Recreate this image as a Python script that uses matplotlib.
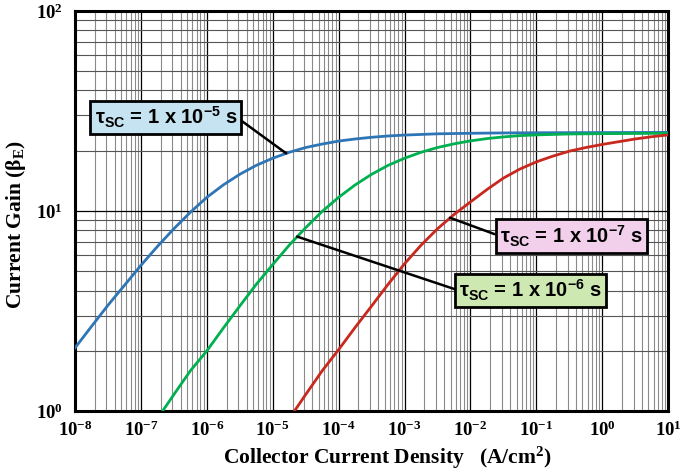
import matplotlib
matplotlib.use('Agg')
import matplotlib.pyplot as plt
from matplotlib.ticker import LogLocator, LogFormatterMathtext, NullFormatter

plt.rcParams['font.family'] = 'Liberation Serif'
plt.rcParams['font.weight'] = 'bold'
plt.rcParams['mathtext.default'] = 'regular'
plt.rcParams['axes.unicode_minus'] = False

# Collector current density (A/cm^2) and current gain
j_blue = [1e-8, 1.78e-8, 3.16e-8, 5.62e-8, 1e-7, 1.78e-7, 3.16e-7, 5.62e-7,
          1e-6, 1.78e-6, 3.16e-6, 5.62e-6, 1e-5, 1.78e-5, 3.16e-5, 5.62e-5,
          1e-4, 1.78e-4, 3.16e-4, 5.62e-4, 1e-3, 3.16e-3, 1e-2, 3.16e-2, 1e-1, 1e0, 1e1]
b_blue = [2.07, 2.65, 3.38, 4.25, 5.35, 6.65, 8.15, 9.85,
          11.7, 13.5, 15.25, 16.9, 18.35, 19.65, 20.75, 21.6,
          22.35, 22.9, 23.35, 23.7, 23.95, 24.3, 24.45, 24.55, 24.6, 24.65, 24.7]

j_green = [2.13e-7, 3.16e-7, 5.62e-7, 1e-6, 1.78e-6, 3.16e-6, 5.62e-6,
           1e-5, 1.78e-5, 3.16e-5, 5.62e-5, 1e-4, 1.78e-4, 3.16e-4, 5.62e-4,
           1e-3, 1.78e-3, 3.16e-3, 5.62e-3, 1e-2, 1.78e-2, 3.16e-2, 5.62e-2,
           1e-1, 3.16e-1, 1e0, 3.16e0, 1e1]
b_green = [1.0, 1.21, 1.59, 2.0, 2.6, 3.35, 4.3,
           5.4, 6.75, 8.25, 9.95, 11.7, 13.5, 15.25, 16.9,
           18.35, 19.65, 20.75, 21.65, 22.4, 23.0, 23.45, 23.8,
           24.0, 24.25, 24.35, 24.4, 24.45]

j_red = [2.13e-5, 3.16e-5, 5.62e-5, 1e-4, 1.78e-4, 3.16e-4, 5.62e-4,
         1e-3, 1.78e-3, 3.16e-3, 5.62e-3, 1e-2, 1.78e-2, 3.16e-2, 5.62e-2,
         1e-1, 1.78e-1, 3.16e-1, 5.62e-1, 1e0, 1.78e0, 3.16e0, 5.62e0, 1e1]
b_red = [1.0, 1.21, 1.59, 2.03, 2.62, 3.35, 4.3,
         5.45, 6.75, 8.15, 9.6, 11.1, 12.8, 14.6, 16.2,
         17.6, 18.8, 19.9, 20.75, 21.5, 22.2, 22.9, 23.5, 24.0]

fig = plt.figure(figsize=(6.85, 4.72), dpi=100)
ax = fig.add_axes([0.1095, 0.129, 0.866, 0.848])

ax.plot(j_blue, b_blue, color='#2E75B6', lw=2.0, zorder=3)
ax.plot(j_green, b_green, color='#00B050', lw=2.0, zorder=3)
ax.plot(j_red, b_red, color='#C8281E', lw=2.0, zorder=3)

ax.set_xscale('log')
ax.set_yscale('log')
ax.set_xlim(1e-8, 1e1)
ax.set_ylim(1, 100)

ax.xaxis.set_major_locator(LogLocator(base=10, numticks=20))
ax.xaxis.set_minor_locator(LogLocator(base=10, subs=range(2, 10), numticks=200))
ax.yaxis.set_major_locator(LogLocator(base=10, numticks=5))
ax.yaxis.set_minor_locator(LogLocator(base=10, subs=range(2, 10), numticks=50))
ax.xaxis.set_major_formatter(LogFormatterMathtext())
ax.yaxis.set_major_formatter(LogFormatterMathtext())
ax.xaxis.set_minor_formatter(NullFormatter())
ax.yaxis.set_minor_formatter(NullFormatter())

ax.grid(which='major', color='black', lw=0.9)
ax.xaxis.grid(which='minor', color='#8a8a8a', lw=0.8)
ax.yaxis.grid(which='minor', color='#555555', lw=0.8)
ax.set_axisbelow(True)

ax.tick_params(which='both', length=0)
ax.tick_params(axis='x', labelsize=13.5, pad=7)
ax.tick_params(axis='y', labelsize=13.5, pad=9)
for s in ax.spines.values():
    s.set_linewidth(2.2)

ax.set_xlabel('Collector Current Density   (A/cm$^2$)', fontsize=15.5, fontweight='bold', labelpad=4)
ax.xaxis.set_label_coords(0.526, -0.085)
ax.set_ylabel('Current Gain (β$_E$)', fontsize=15.5, fontweight='bold')
ax.yaxis.set_label_coords(-0.08, 0.465)

# annotations
box_font = dict(family='Liberation Sans', weight='bold', size=14.5)
ax.annotate('τ$_{SC}$ = 1 x 10$^{-5}$ s', xy=(1.6e-5, 19.4), xytext=(2.4e-7, 29.2),
            ha='center', va='center', **box_font,
            bbox=dict(boxstyle='square,pad=0.2', fc='#C5E3F0', ec='black', lw=2),
            arrowprops=dict(arrowstyle='-', color='black', lw=1.8, relpos=(1, 0.5),
                            shrinkA=0, shrinkB=0))
ax.annotate('τ$_{SC}$ = 1 x 10$^{-7}$ s', xy=(4.9e-3, 9.25), xytext=(0.336, 7.5),
            ha='center', va='center', **box_font,
            bbox=dict(boxstyle='square,pad=0.2', fc='#F2D0EC', ec='black', lw=2),
            arrowprops=dict(arrowstyle='-', color='black', lw=1.8, relpos=(0, 0.5),
                            shrinkA=0, shrinkB=0))
ax.annotate('τ$_{SC}$ = 1 x 10$^{-6}$ s', xy=(2.34e-5, 7.45), xytext=(0.0817, 4.0),
            ha='center', va='center', **box_font,
            bbox=dict(boxstyle='square,pad=0.2', fc='#CDE8B0', ec='black', lw=2),
            arrowprops=dict(arrowstyle='-', color='black', lw=1.8, relpos=(0, 0.5),
                            shrinkA=0, shrinkB=0))

fig.savefig('out.png', dpi=100)
